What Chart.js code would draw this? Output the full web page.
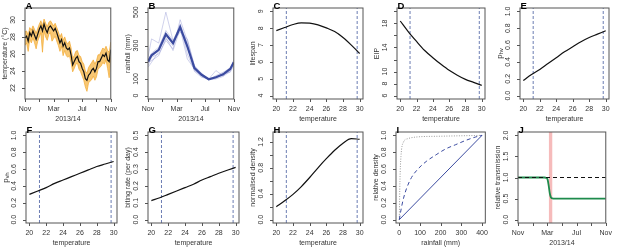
<!DOCTYPE html>
<html>
<head>
<meta charset="utf-8">
<script src="https://cdn.jsdelivr.net/npm/chart.js@4.4.1/dist/chart.umd.min.js"></script>
<style>
  html, body { margin: 0; padding: 0; background: #fff; overflow: hidden; width: 617px; height: 248px; position: relative; }
  canvas { position: absolute; }
</style>
</head>
<body>
<script>
// ---- values ----
const monthTicks = [0, 2, 4, 6, 8, 10, 12];
const monthLabels = ['Nov', '', 'Mar', '', 'Jul', '', 'Nov'];
const tempTicks = [20, 22, 24, 26, 28, 30];
const tempGrid = [20, 21, 22, 23, 24, 25, 26, 27, 28, 29, 30];
const seasonLimits = [21.2, 29.7];

// A: weekly temperature, mean and spread of the runs
const tempMean = [27.9, 28.1, 27.5, 28.5, 28.1, 28.7, 28.2, 27.7, 28.3, 28.9,
  29.3, 28.7, 29.5, 28.9, 28.5, 29.1, 29.3, 29.0, 28.7, 29.0,
  28.5, 27.9, 27.3, 27.7, 26.9, 27.3, 26.7, 26.5, 26.7, 25.9,
  24.7, 25.1, 25.5, 25.7, 25.1, 24.9, 24.3, 23.9, 23.1, 22.9,
  23.5, 23.7, 24.1, 24.3, 23.9, 24.3, 25.1, 25.1, 25.5, 25.9,
  25.7, 26.1, 25.3, 25.1, 26.5];
const tempHigh = [28.6, 28.7, 28.2, 29.1, 28.8, 29.3, 28.9, 28.4, 29.0, 29.5,
  29.9, 29.3, 30.1, 29.6, 29.2, 29.7, 29.9, 29.6, 29.3, 29.6,
  29.1, 28.6, 28.0, 28.4, 27.6, 28.0, 27.4, 27.2, 27.5, 26.7,
  25.5, 25.8, 26.3, 26.4, 25.8, 25.7, 25.1, 24.8, 24.0, 23.7,
  24.4, 24.7, 25.0, 25.3, 24.8, 25.2, 25.9, 25.9, 26.3, 26.7,
  26.5, 26.9, 26.4, 26.2, 27.4];
const tempLow = [27.0, 27.3, 26.3, 27.7, 27.3, 27.9, 27.3, 26.6, 27.5, 28.0,
  28.5, 26.2, 28.7, 28.0, 27.6, 28.3, 28.5, 27.5, 27.8, 28.1,
  27.5, 27.0, 26.3, 26.9, 25.8, 26.4, 25.8, 25.6, 25.8, 25.0,
  23.9, 24.3, 24.8, 24.9, 24.2, 23.9, 23.4, 22.9, 22.1, 21.6,
  22.6, 22.8, 23.0, 23.4, 22.9, 23.3, 24.2, 24.4, 24.6, 25.0,
  24.8, 25.3, 24.3, 23.2, 25.6];

// B: monthly rainfall
const rainMonths = [0, 0.5, 1.5, 2.5, 3.5, 4.5, 5.5, 6.5, 7.5, 8.5, 9.5, 10.5, 11.5, 12];
const rainMean = [204, 242, 274, 368, 314, 410, 295, 165, 125, 98, 110, 128, 160, 200];
const rainRuns = [
  [230, 340, 315, 500, 330, 420, 250, 150, 120, 100, 150, 120, 160, 205],
  [180, 230, 250, 330, 280, 455, 330, 180, 130, 95, 120, 140, 165, 190],
  [200, 210, 240, 340, 300, 430, 310, 145, 110, 100, 115, 120, 150, 215],
  [170, 200, 265, 350, 270, 400, 220, 160, 115, 100, 105, 130, 140, 180],
  [215, 255, 290, 390, 330, 380, 340, 175, 135, 95, 100, 115, 145, 195]
];

// C-H: temperature dependent traits
const lifespan = [7.86, 8.04, 8.22, 8.32, 8.30, 8.20, 8.02, 7.80, 7.45, 7.00, 6.50];
const eip = [18.4, 16.6, 15.0, 13.5, 12.3, 11.2, 10.2, 9.4, 8.7, 8.2, 7.7];
const pHV = [0.18, 0.25, 0.31, 0.38, 0.45, 0.52, 0.58, 0.64, 0.69, 0.73, 0.77];
const pVH = [0.30, 0.34, 0.38, 0.43, 0.47, 0.51, 0.55, 0.59, 0.63, 0.66, 0.69];
const bitingRate = [0.113, 0.13, 0.15, 0.17, 0.19, 0.21, 0.235, 0.255, 0.275, 0.293, 0.31];
const normDensity = [0.20, 0.29, 0.39, 0.51, 0.65, 0.80, 0.94, 1.07, 1.18, 1.25, 1.24];

// I: rainfall-density relationships
const linearX = [0, 400];
const linearY = [0, 1];
const concaveX = [0, 10, 20, 35, 59, 90, 130, 178, 225, 273, 321, 368, 400];
const concaveY = [0, 0.14, 0.25, 0.37, 0.50, 0.60, 0.69, 0.77, 0.84, 0.89, 0.94, 0.98, 1.0];
const saturX = [0, 3, 8, 20, 40, 80, 200, 400];
const saturY = [0, 0.45, 0.75, 0.92, 0.96, 0.98, 0.99, 1.0];

// J: relative transmission
const transX = [0, 3.6, 3.9, 4.05, 4.2, 4.35, 4.5, 4.7, 5, 12];
const transY = [1, 1, 0.99, 0.95, 0.8, 0.62, 0.53, 0.505, 0.5, 0.5];
const intervention = [4.2, 4.72];

// ---- helpers ----
const xy = (xs, ys) => xs.map((x, i) => ({ x: x, y: ys[i] }));
const steps = (a, b, s) => { const r = []; for (let v = a; v <= b + 1e-9; v += s) r.push(+v.toFixed(3)); return r; };
const weeks = tempMean.map((_, i) => i * 12 / (tempMean.length - 1));

function line(data, color, width, extra) {
  return Object.assign({ data: data, borderColor: color, borderWidth: width, pointRadius: 0, fill: false }, extra || {});
}
function curve(ys) {
  return line(xy(tempGrid, ys), '#111', 1.2, { cubicInterpolationMode: 'monotone' });
}
function seasonLines(yMin, yMax) {
  return seasonLimits.map(t => line([{ x: t, y: yMin }, { x: t, y: yMax }], '#6B7DB3', 1, { borderDash: [3, 2] }));
}

const specs = {};
const rStyle = {
  id: 'rstyle',
  afterDraw(chart) {
    const spec = specs[chart.canvas.id];
    const { ctx, chartArea: a } = chart;
    const xs = chart.scales.x, ys = chart.scales.y;
    ctx.save();
    ctx.strokeStyle = '#555';
    ctx.lineWidth = 1;
    ctx.strokeRect(a.left, a.top, a.right - a.left, a.bottom - a.top);
    // outward tick marks
    ctx.beginPath();
    spec.xTicks.forEach(v => {
      const px = Math.round(xs.getPixelForValue(v)) + 0.5;
      ctx.moveTo(px, a.bottom); ctx.lineTo(px, a.bottom + 3);
    });
    spec.yTicks.forEach(v => {
      const py = Math.round(ys.getPixelForValue(v)) + 0.5;
      ctx.moveTo(a.left, py); ctx.lineTo(a.left - 3, py);
    });
    ctx.stroke();
    // rotated y tick labels, R style
    ctx.fillStyle = '#333';
    ctx.font = '7px "Liberation Sans", Arial, sans-serif';
    ctx.textAlign = 'center';
    ctx.textBaseline = 'middle';
    spec.yTicks.forEach((v, i) => {
      const lab = spec.yLabels[i];
      if (!lab) return;
      ctx.save();
      ctx.translate(a.left - 11.5, ys.getPixelForValue(v));
      ctx.rotate(-Math.PI / 2);
      ctx.fillText(lab, 0, 0);
      ctx.restore();
    });
    // y title
    ctx.save();
    ctx.translate(a.left - 20, (a.top + a.bottom) / 2);
    ctx.rotate(-Math.PI / 2);
    if (Array.isArray(spec.yTitle)) {
      ctx.font = '8px "Liberation Sans", Arial, sans-serif';
      const w1 = ctx.measureText(spec.yTitle[0]).width;
      ctx.font = '5.5px "Liberation Sans", Arial, sans-serif';
      const w2 = ctx.measureText(spec.yTitle[1]).width;
      ctx.textAlign = 'left';
      ctx.font = '8px "Liberation Sans", Arial, sans-serif';
      ctx.fillText(spec.yTitle[0], -(w1 + w2) / 2, -0.5);
      ctx.font = '5.5px "Liberation Sans", Arial, sans-serif';
      ctx.fillText(spec.yTitle[1], -(w1 + w2) / 2 + w1, 1.8);
    } else {
      ctx.fillText(spec.yTitle, 0, 0);
    }
    ctx.restore();
    // panel letter
    ctx.fillStyle = '#000';
    ctx.font = 'bold 9.5px "Liberation Sans", Arial, sans-serif';
    ctx.textAlign = 'left';
    ctx.textBaseline = 'alphabetic';
    ctx.fillText(spec.letter, a.left + 0.5, a.top + 1);
    ctx.restore();
  }
};

function makePanel(spec) {
  const cv = document.createElement('canvas');
  cv.id = 'panel' + spec.letter;
  cv.width = 25 + spec.w + 4;
  cv.height = 126;
  cv.style.left = spec.left + 'px';
  cv.style.top = spec.top + 'px';
  cv.style.width = cv.width + 'px';
  cv.style.height = cv.height + 'px';
  document.body.appendChild(cv);
  specs[cv.id] = spec;

  new Chart(cv, {
    type: 'line',
    data: { datasets: spec.datasets },
    options: {
      responsive: false,
      animation: false,
      events: [],
      layout: { padding: { top: 8, right: 4, left: 0, bottom: 0 } },
      plugins: { legend: { display: false }, tooltip: { enabled: false } },
      scales: {
        x: {
          type: 'linear',
          min: spec.xMin,
          max: spec.xMax,
          afterBuildTicks: s => { s.ticks = spec.xTicks.map(v => ({ value: v })); },
          afterFit: s => { s.height = 27; },
          ticks: { autoSkip: false, maxRotation: 0, minRotation: 0, padding: 3, color: '#333',
            callback: (v, i) => spec.xLabels[i] },
          grid: { drawOnChartArea: false, drawTicks: true, tickLength: 3, color: 'rgba(0,0,0,0)' },
          border: { display: false },
          title: { display: true, text: spec.xTitle, color: '#333', padding: { top: 0, bottom: 3 } }
        },
        y: {
          type: 'linear',
          min: spec.yMin,
          max: spec.yMax,
          afterBuildTicks: s => { s.ticks = spec.yTicks.map(v => ({ value: v })); },
          afterFit: s => { s.width = 25; },
          ticks: { display: false },
          grid: { drawOnChartArea: false, drawTicks: true, tickLength: 3, color: 'rgba(0,0,0,0)' },
          border: { display: false }
        }
      }
    },
    plugins: [rStyle]
  });
}

Chart.defaults.font.family = '"Liberation Sans", Arial, sans-serif';
Chart.defaults.font.size = 7;
Chart.defaults.color = '#333';

const fmt = d => v => v.toFixed(d);
const tempX = { xMin: 19.6, xMax: 30.4, xTicks: tempTicks, xLabels: tempTicks.map(String), xTitle: 'temperature' };
const monthX = { xMin: 0, xMax: 12, xTicks: monthTicks, xLabels: monthLabels, xTitle: '2013/14' };

// A
makePanel(Object.assign({
  letter: 'A', left: 0, top: 0, w: 91,
  yMin: 20.7, yMax: 31.4, yTicks: [22, 24, 26, 28, 30], yLabels: ['22', '24', '26', '28', '30'],
  yTitle: 'temperature (\u00B0C)',
  datasets: [
    line(xy(weeks, tempMean), '#111', 1.2, { order: 0 }),
    line(xy(weeks, tempHigh), 'rgba(240,165,40,0.85)', 0.8, { fill: '+1', backgroundColor: 'rgba(245,175,55,0.7)', order: 1 }),
    line(xy(weeks, tempLow), 'rgba(240,165,40,0.85)', 0.8, { order: 2 })
  ]
}, monthX));

// B
const rainTicks = steps(0, 500, 100);
makePanel(Object.assign({
  letter: 'B', left: 123, top: 0, w: 91,
  yMin: -20, yMax: 525, yTicks: rainTicks, yLabels: ['0', '100', '', '300', '', '500'],
  yTitle: 'rainfall (mm)',
  datasets: [line(xy(rainMonths, rainMean), '#3B4BA0', 2.2, { order: 0 })].concat(
    rainRuns.map(r => line(xy(rainMonths, r), 'rgba(120,125,200,0.35)', 1, { order: 1 })))
}, monthX));

// C
makePanel(Object.assign({
  letter: 'C', left: 248, top: 0, w: 90,
  yMin: 3.8, yMax: 9.2, yTicks: [4, 5, 6, 7, 8, 9], yLabels: ['4', '5', '6', '7', '8', '9'],
  yTitle: 'lifespan',
  datasets: [curve(lifespan)].concat(seasonLines(3.8, 9.2))
}, tempX));

// D
const eipTicks = steps(6, 20, 2);
makePanel(Object.assign({
  letter: 'D', left: 372, top: 0, w: 88,
  yMin: 5.44, yMax: 20.56, yTicks: eipTicks, yLabels: ['6', '8', '10', '', '14', '', '18', ''],
  yTitle: 'EIP',
  datasets: [curve(eip)].concat(seasonLines(5.44, 20.56))
}, tempX));

// E
const probTicks = steps(0, 1, 0.2);
makePanel(Object.assign({
  letter: 'E', left: 495, top: 0, w: 89,
  yMin: -0.04, yMax: 1.04, yTicks: probTicks, yLabels: probTicks.map(fmt(1)),
  yTitle: ['p', 'hv'],
  datasets: [curve(pHV)].concat(seasonLines(-0.04, 1.04))
}, tempX));

// F
makePanel(Object.assign({
  letter: 'F', left: 1, top: 124, w: 91,
  yMin: -0.04, yMax: 1.04, yTicks: probTicks, yLabels: probTicks.map(fmt(1)),
  yTitle: ['p', 'vh'],
  datasets: [curve(pVH)].concat(seasonLines(-0.04, 1.04))
}, tempX));

// G
const biteTicks = steps(0, 0.5, 0.1);
makePanel(Object.assign({
  letter: 'G', left: 123, top: 124, w: 91,
  yMin: -0.02, yMax: 0.52, yTicks: biteTicks, yLabels: biteTicks.map(fmt(1)),
  yTitle: 'biting rate (per day)',
  datasets: [curve(bitingRate)].concat(seasonLines(-0.02, 0.52))
}, tempX));

// H
const densTicks = steps(0, 1.2, 0.2);
makePanel(Object.assign({
  letter: 'H', left: 248, top: 124, w: 90,
  yMin: -0.052, yMax: 1.352, yTicks: densTicks, yLabels: ['0.0', '', '0.4', '', '0.8', '', '1.2'],
  yTitle: 'normalised density',
  datasets: [curve(normDensity)].concat(seasonLines(-0.052, 1.352))
}, tempX));

// I
const rainX = steps(0, 400, 100);
makePanel({
  letter: 'I', left: 371, top: 124, w: 91,
  xMin: -16, xMax: 416, xTicks: rainX, xLabels: rainX.map(String), xTitle: 'rainfall (mm)',
  yMin: -0.04, yMax: 1.04, yTicks: probTicks, yLabels: probTicks.map(fmt(1)),
  yTitle: 'relative density',
  datasets: [
    line(xy(linearX, linearY), '#3B4BA0', 1),
    line(xy(concaveX, concaveY), '#3B4BA0', 1, { borderDash: [4, 3], cubicInterpolationMode: 'monotone' }),
    line(xy(saturX, saturY), '#9a9a9a', 1, { borderDash: [1, 1.5], cubicInterpolationMode: 'monotone' })
  ]
});

// J
const transTicks = steps(0, 2, 0.5);
makePanel(Object.assign({
  letter: 'J', left: 493, top: 124, w: 93,
  yMin: -0.08, yMax: 2.08, yTicks: transTicks, yLabels: transTicks.map(fmt(1)),
  yTitle: 'relative transmission',
  datasets: [
    line([{ x: 0, y: 1 }, { x: 12, y: 1 }], '#111', 1, { borderDash: [4, 3], order: 0 }),
    line(xy(transX, transY), '#1E8B4C', 1.8, { cubicInterpolationMode: 'monotone', order: 1 }),
    line(xy(intervention, [2.08, 2.08]), 'rgba(0,0,0,0)', 0, { fill: 'start', backgroundColor: 'rgba(244,170,170,0.8)', order: 2 })
  ]
}, monthX));
</script>
</body>
</html>
